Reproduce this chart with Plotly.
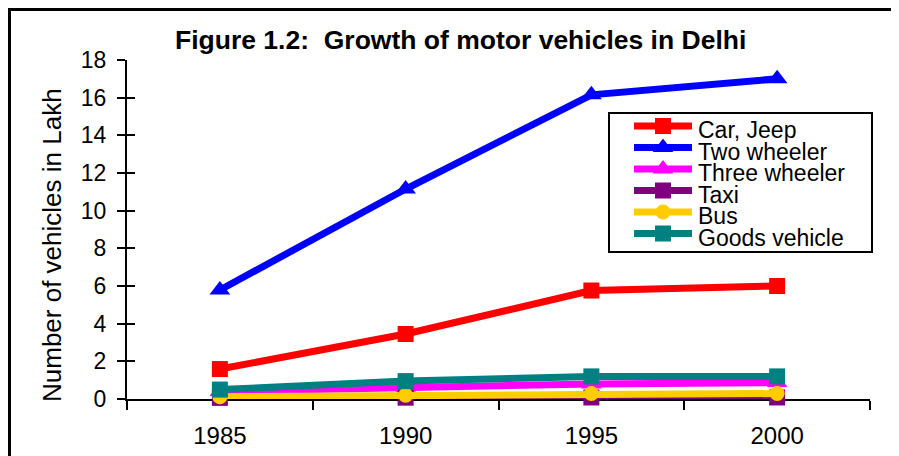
import plotly.graph_objects as go

years = [1985, 1990, 1995, 2000]
car_jeep = [1.59, 3.45, 5.76, 6.0]
two_wheeler = [5.79, 11.15, 16.15, 17.0]
three_wheeler = [0.4, 0.62, 0.8, 0.87]
taxi = [0.06, 0.07, 0.08, 0.08]
bus = [0.12, 0.2, 0.29, 0.29]
goods_vehicle = [0.5, 0.95, 1.2, 1.2]

series = [
    ("Car, Jeep", car_jeep, "#FF0000", "square", 16),
    ("Two wheeler", two_wheeler, "#0000FF", "triangle-up", 18),
    ("Three wheeler", three_wheeler, "#FF00FF", "triangle-up", 18),
    ("Taxi", taxi, "#800080", "square", 16),
    ("Bus", bus, "#FFCC00", "circle", 15),
    ("Goods vehicle", goods_vehicle, "#008080", "square", 16),
]

FONT = "Arial, Liberation Sans, sans-serif"

# page body has an 8px margin: figure occupies page px 8..899, 8..456
OFF = 8
W, H = 899 - OFF, 456 - OFF
# plot area in page (reference) pixels
PX0, PX1, PY0, PY1 = 127, 870, 60, 399
L, R, T, B = PX0 - OFF, W - (PX1 - OFF), PY0 - OFF, H - (PY1 - OFF)


def px(x):
    return (x - PX0) / (PX1 - PX0)


def py(y):
    return (PY1 - y) / (PY1 - PY0)


fig = go.Figure()
for name, vals, color, sym, size in series:
    fig.add_trace(go.Scatter(
        x=years, y=vals, name=name, mode="lines+markers",
        line=dict(color=color, width=7),
        marker=dict(color=color, symbol=sym, size=size, line=dict(width=0)),
        cliponaxis=False, showlegend=False,
    ))

# activate overlay y axis for crossing tick marks
fig.add_trace(go.Scatter(x=[None], y=[None], yaxis="y2", showlegend=False, hoverinfo="skip"))

# custom legend (sample lines drawn on a hidden pixel-coordinate overlay axis)
leg_rows_y = [126, 147.5, 169, 190.5, 212, 233.5]
leg_x0, leg_x1 = 634, 692
for (name, vals, color, sym, size), ly in zip(series, leg_rows_y):
    fig.add_trace(go.Scatter(
        x=[leg_x0, leg_x1], y=[ly, ly], mode="lines", xaxis="x3", yaxis="y3",
        line=dict(color=color, width=7), showlegend=False, hoverinfo="skip", cliponaxis=False))
    fig.add_trace(go.Scatter(
        x=[(leg_x0 + leg_x1) / 2], y=[ly], mode="markers", xaxis="x3", yaxis="y3",
        marker=dict(color=color, symbol=sym, size=size, line=dict(width=0)),
        showlegend=False, hoverinfo="skip", cliponaxis=False))
    fig.add_annotation(text=name, xref="paper", yref="paper", x=px(696), y=py(ly + 4),
                       xanchor="left", yanchor="middle", showarrow=False,
                       font=dict(family=FONT, size=23, color="black"))

fig.add_shape(type="rect", xref="paper", yref="paper",
              x0=px(609), x1=px(872), y0=py(252), y1=py(113),
              line=dict(color="black", width=2), fillcolor="white", layer="below")

fig.update_layout(
    width=W, height=H, autosize=False,
    margin=dict(l=L, r=R, t=T, b=B, autoexpand=False),
    paper_bgcolor="white", plot_bgcolor="white",
    font=dict(family=FONT, size=20, color="black"),
    showlegend=False,
    xaxis=dict(range=[1982.5, 2002.5], tickvals=years, ticktext=[str(y) for y in years],
               ticks="outside", ticklen=0, showgrid=False, zeroline=False, automargin=False,
               showline=True, linecolor="black", linewidth=2, layer="below traces",
               tickfont=dict(size=24), ticklabelstandoff=14,
               minor=dict(tickvals=[1982.5, 1987.5, 1992.5, 1997.5, 2002.5],
                          ticks="outside", ticklen=9, tickwidth=2, tickcolor="black")),
    yaxis=dict(range=[0, 18], dtick=2, ticks="outside", ticklen=8, tickwidth=2,
               tickcolor="black", showgrid=False, zeroline=False, automargin=False,
               showline=True, linecolor="black", linewidth=2, layer="below traces",
               tickfont=dict(size=23), ticklabelstandoff=6),
    yaxis2=dict(range=[0, 18], dtick=2, overlaying="y", side="left", anchor="x",
                ticks="inside", ticklen=8, tickwidth=2, tickcolor="black", automargin=False,
                showticklabels=False, showgrid=False, zeroline=False, showline=False),
    xaxis3=dict(range=[PX0, PX1], overlaying="x", anchor="y3", visible=False, automargin=False),
    yaxis3=dict(range=[PY1, PY0], overlaying="y", anchor="x3", visible=False, automargin=False),
)

# title
fig.add_annotation(text="<b>Figure 1.2:\u00a0 Growth of motor vehicles in Delhi</b>",
                   xref="paper", yref="paper", x=px(460), y=py(40),
                   xanchor="center", yanchor="middle", showarrow=False,
                   font=dict(family=FONT, size=26.5, color="black"))
# y axis title
fig.add_annotation(text="Number of vehicles in Lakh", textangle=-90,
                   xref="paper", yref="paper", x=px(52), y=py(245),
                   xanchor="center", yanchor="middle", showarrow=False,
                   font=dict(family=FONT, size=26, color="black"))

# outer chart frame (cropped at the right and bottom edges)
fig.add_shape(type="rect", xref="paper", yref="paper",
              x0=px(9.5), x1=px(920), y0=py(480), y1=py(9.5),
              line=dict(color="black", width=3), fillcolor="rgba(0,0,0,0)", layer="below")

fig.write_html("out.html")
